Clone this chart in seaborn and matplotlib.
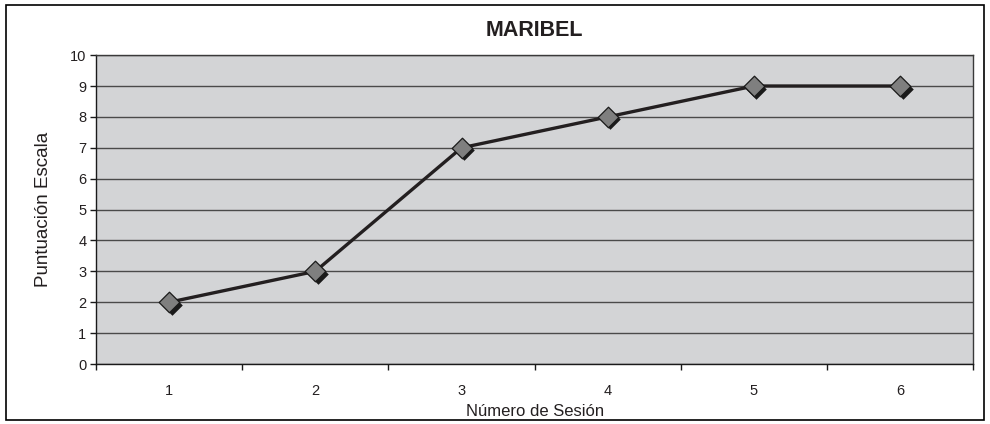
import pandas as pd
import numpy as np
import seaborn as sns
import matplotlib.pyplot as plt
import matplotlib.transforms as mtransforms
from matplotlib.patches import Rectangle

# datos
sesiones = [1, 2, 3, 4, 5, 6]
puntuacion = [2, 3, 7, 8, 9, 9]

df = pd.DataFrame({'sesion': sesiones, 'puntuacion': puntuacion})

sns.set_style('white')
plt.rcParams['font.family'] = ['Liberation Sans', 'DejaVu Sans']

fig = plt.figure(figsize=(9.9, 4.24), dpi=100)
ax = fig.add_axes([0.097, 0.1415, 0.886, 0.7285])
ax.set_facecolor('#d3d4d6')

# outer frame of the chart
fig.patches.append(Rectangle((0.006, 0.01), 0.988, 0.978, transform=fig.transFigure,
                             fill=False, edgecolor='black', linewidth=1.2))

sns.lineplot(x='sesion', y='puntuacion', data=df, color='#231f20', linewidth=2.4, ax=ax)

# shadow of the markers, a bit lower right
shadow = mtransforms.offset_copy(ax.transData, fig=fig, x=2.5, y=-2.5, units='dots')
ax.scatter(df['sesion'], df['puntuacion'], marker='D', s=110, color='#1a1a1a',
           transform=shadow, zorder=3, linewidths=0)
ax.scatter(df['sesion'], df['puntuacion'], marker='D', s=110, color='#7f7f7f',
           edgecolors='#1a1a1a', linewidths=0.9, zorder=4)

ax.set_xlim(0.5, 6.5)
ax.set_ylim(0, 10)
ax.set_yticks(range(0, 11))
ax.set_xticks(sesiones)
ax.set_xticks(np.arange(0.5, 7, 1), minor=True)
ax.grid(axis='y', color='#4a4a4a', linewidth=1)
ax.set_axisbelow(True)

for s in ax.spines.values():
    s.set_color('#3a3a3a')
    s.set_linewidth(1)
ax.spines['bottom'].set_color('#1a1a1a')
ax.spines['left'].set_color('#1a1a1a')

ax.tick_params(axis='x', which='major', direction='inout', length=9, width=1.5,
               color='#1a1a1a', labelsize=10.5, pad=10)
ax.tick_params(axis='x', which='minor', direction='out', length=4, width=1,
               color='#1a1a1a', bottom=True)
ax.tick_params(axis='y', direction='out', length=4, width=1, color='#1a1a1a',
               labelsize=10.5, left=True, pad=3)
for t in ax.get_xticklabels() + ax.get_yticklabels():
    t.set_color('#231f20')

ax.set_xlabel('Número de Sesión', fontsize=12, color='#231f20', labelpad=4)
ax.set_ylabel('Puntuación Escala', fontsize=13.5, color='#231f20', labelpad=13)
ax.set_title('MARIBEL', fontsize=15.5, fontweight='bold', color='#231f20', pad=14)

plt.savefig('out.png', dpi=100)
